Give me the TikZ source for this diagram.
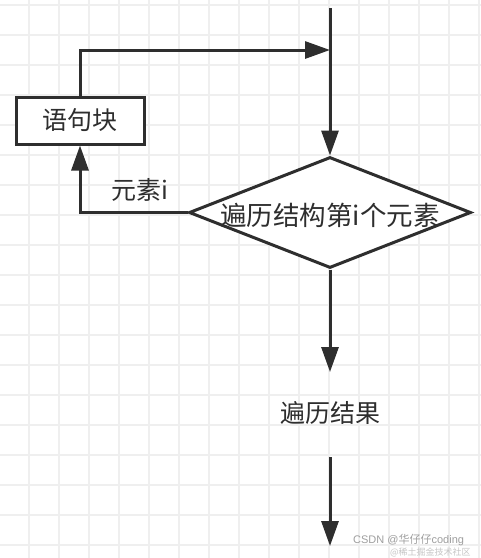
\documentclass[tikz,border=0pt]{standalone}
\usepackage{fontspec}
\newfontfamily\cjk{Noto Sans CJK SC}
\usetikzlibrary{shapes.geometric,arrows.meta}
\definecolor{ink}{HTML}{2E2E2E}
\definecolor{gridc}{HTML}{EFEFEF}
\tikzset{
  arr/.style={draw=ink,line width=3pt,-{Triangle[length=25pt,width=17pt]}},
  boxst/.style={draw=ink,line width=3pt,fill=white,minimum width=128pt,minimum height=47pt,inner sep=0pt},
  dia/.style={diamond,draw=ink,line width=3pt,fill=white,minimum width=282pt,minimum height=111pt,inner sep=0pt},
  txt/.style={text=ink,font=\cjk\fontsize{25pt}{30pt}\selectfont,inner sep=0pt},
  wm/.style={text=gray!75,font=\fontspec{Liberation Sans}\fontsize{11pt}{12pt}\selectfont,inner sep=0pt}
}
\begin{document}
\begin{tikzpicture}[x=1pt,y=-1pt]
\useasboundingbox (0,0) rectangle (481,558);
\fill[white] (0,0) rectangle (481,558);
\foreach \gx in {29,59,...,479} \draw[gridc,line width=1.5pt] (\gx,0) -- (\gx,558);
\foreach \gy in {5,35,...,555} \draw[gridc,line width=1.5pt] (0,\gy) -- (481,\gy);
\coordinate (top) at (330,8);
\coordinate (j) at (330,50);
\node[boxst] (blk) at (80,120.5) {};
\node[txt] at (blk) {语句块};
\node[dia] (d) at (330,212.5) {};
\node[txt,font=\cjk\fontsize{26.5pt}{32pt}\selectfont] (dt) at (330,215) {遍历结构第i个元素};
\node[txt] (lab) at (140,190) {元素i};
\node[txt] (res) at (330,413) {遍历结果};
\coordinate (r1) at (330,372);
\coordinate (s2) at (330,457);
\coordinate (e) at (330,546);
\draw[arr] (top) -- (d.north);
\draw[arr] (blk.north) |- (j);
\draw[arr] (d.west) -| (blk.south);
\draw[arr] (d.south) -- (r1);
\draw[arr] (s2) -- (e);
\node[wm,anchor=west] (wm1) at (353,540) {CSDN @\cjk 华仔仔\fontspec{Liberation Sans}coding};
\node[wm,anchor=west,text=gray!45,font=\cjk\fontsize{9pt}{10pt}\selectfont] (wm2) at (390,552) {@稀土掘金技术社区};
\end{tikzpicture}
\end{document}
